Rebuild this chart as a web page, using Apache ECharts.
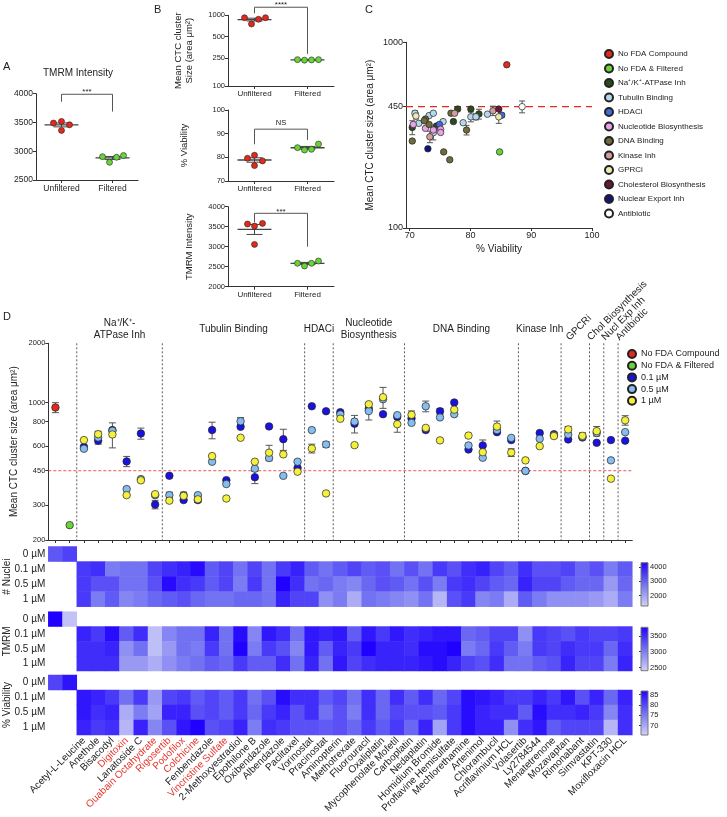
<!DOCTYPE html>
<html>
<head>
<meta charset="utf-8">
<script src="https://cdn.jsdelivr.net/npm/echarts@6/dist/echarts.min.js"></script>
<style>
html, body { margin: 0; padding: 0; background: #fff; }
#main { width: 727px; height: 817px; }
</style>
</head>
<body>
<div id="main"></div>
<script>
var FONT = '"Liberation Sans", Arial, Helvetica, sans-serif';
var INK = '#222';
var lg = function (v) { return Math.log10(v); };
var unlog = function (v) { return String(Math.round(Math.pow(10, v))); };
var plain = function (v) { return String(v); };

// ---- panels A / B : four replicates per condition ----
var conditions = ['Unfiltered', 'Filtered'];
var tmrmA_unf = [3490, 3518, 3362, 3460];
var tmrmA_fil = [2905, 2808, 2895, 2925];
var sizeB_unf = [925, 754, 878, 925];
var sizeB_fil = [236, 232, 234, 236];
var viabB_unf = [79.6, 80.9, 76.5, 78.5];
var viabB_fil = [84.1, 83.1, 83.4, 85.6];
var tmrmB_unf = [3567, 3517, 3058, 3583];
var tmrmB_fil = [2585, 2518, 2585, 2642];
// significance brackets: label, top, left leg end, right leg end
var sigA = ['***', 3990, 3860, 3690];
var sigB1 = ['****', 1300, 1070, 285];
var sigB2 = ['NS', 91.9, 85.5, 87.3];
var sigB3 = ['***', 3835, 3610, 3000];
var sizeCutoff = 450;

// ---- panel C : [% viability, cluster size, sem] ----
var cNames = ['No FDA Compound', 'No FDA & Filtered', 'Na⁺/K⁺-ATPase Inh', 'Tubulin Binding', 'HDACi',
  'Nucleotide Biosynthesis', 'DNA Binding', 'Kinase Inh', 'GPRCi', 'Cholesterol Biosynthesis',
  'Nuclear Export Inh', 'Antibiotic'];
var cNoFda = [[85.98, 757, 0]];
var cFiltered = [[84.8, 257, 0]];
var cNaK = [[70.43, 348, 30], [74.4, 354, 0], [77.9, 437, 0], [77.2, 374, 0], [80.07, 437, 0], [81.4, 411, 25]];
var cTubulin = [[70.87, 415, 12], [71.5, 366, 0], [73.2, 403, 0], [73.9, 415, 0], [73.9, 326, 28],
  [75.5, 374, 0], [78.8, 369, 0], [80.07, 397, 24], [80.9, 397, 15], [82.8, 410, 0]];
var cHdac = [[74.9, 361, 0], [85.15, 405, 10]];
var cNucleotide = [[70.6, 361, 0], [72.6, 344, 0], [73.9, 337, 0], [75.1, 340, 0], [75.1, 327, 0]];
var cDna = [[70.43, 294, 0], [72.6, 386, 0], [73.2, 361, 0], [75.6, 257, 0], [76.6, 233, 0],
  [76.8, 415, 0], [79.36, 337, 20], [72.4, 378, 0]];
var cKinase = [[73.33, 310, 22], [77.4, 415, 0], [83.7, 428, 25]];
var cGpcr = [[71.03, 401, 15], [84.66, 397, 31]];
var cChol = [[84.66, 437, 0]];
var cNuclExp = [[73.0, 267, 0]];
var cAntibiotic = [[88.5, 450, 33]];
var cData = [cNoFda, cFiltered, cNaK, cTubulin, cHdac, cNucleotide, cDna, cKinase, cGpcr, cChol, cNuclExp, cAntibiotic];

// ---- panel D ----
var compounds = ['Acetyl-L-Leucine', 'Anethole', 'Bisacodyl', 'Digitoxin', 'Lanatoside C',
  'Ouabain Octahydrate', 'Rigosertib', 'Podofilox', 'Colchicine', 'Fenbendazole',
  'Vincristine Sulfate', '2-Methoxyestradiol', 'Epothilone B', 'Oxibendazole', 'Albendazole',
  'Paclitaxel', 'Vorinostat', 'Pracinostat', 'Aminopterin', 'Methotrexate',
  'Fluorouracil', 'Oxaliplatin', 'Mycophenolate Mofetil', 'Carboplatin', 'Nedaplatin',
  'Homidium Bromide', 'Proflavine Hemisulfate', 'Mechlorethamine', 'Artenimol', 'Chlorambucil',
  'Acriflavinium HCL', 'Volasertib', 'Ly2784544', 'Menatetrenone', 'Mozavaptan',
  'Rimonabant', 'Simvastatin', 'KPT-330', 'Moxifloxacin HCL'];
var redCompounds = ['Digitoxin', 'Ouabain Octahydrate', 'Rigosertib', 'Podofilox', 'Colchicine', 'Vincristine Sulfate'];
var groupNames = ['Na⁺/K⁺-\nATPase Inh', 'Tubulin Binding', 'HDACi', 'Nucleotide\nBiosynthesis', 'DNA Binding',
  'Kinase Inh', 'GPCRi', 'Chol Biosynthesis', 'Nucl Exp Inh', 'Antibiotic'];
var groupSizes = [6, 10, 2, 5, 8, 3, 2, 1, 1, 1];
var ctrlNames = ['No FDA Compound', 'No FDA & Filtered'];
var ctrlSize = [943, 238];
var ctrlErr = [55, 0];
var doses = ['0.1 µM', '0.5 µM', '1 µM'];
var size01 = [595, 640, 724, 502, 696, 303, 424, 319, 319, 724, 403, 752, 417, 756, 651, 465, 957, 903, 893, 780,
  930, 872, 845, 830, 724, 903, 1000, 577, 605, 707, 644, 449, 700, 690, 649, 664, 624, 644, 640];
var size05 = [582, 664, 718, 363, 408, 338, 338, 338, 338, 500, 385, 803, 461, 522, 424, 500, 724, 612, 870, 800,
  905, 1040, 862, 788, 957, 840, 872, 605, 524, 724, 661, 449, 654, 682, 688, 669, 700, 508, 707];
var size1 = [644, 690, 688, 338, 402, 342, 317, 335, 322, 534, 325, 662, 500, 556, 545, 445, 584, 345, 827, 607,
  980, 1064, 776, 866, 743, 642, 920, 679, 559, 755, 557, 508, 600, 675, 730, 677, 715, 410, 812];
var err01 = [0, 0, 0, 30, 45, 15, 0, 0, 0, 70, 0, 0, 30, 0, 80, 0, 0, 0, 0, 80,
  0, 0, 0, 0, 0, 30, 0, 0, 40, 0, 0, 0, 0, 0, 0, 0, 0, 0, 0];
var err05 = [0, 50, 0, 0, 0, 0, 12, 12, 0, 0, 0, 35, 0, 0, 0, 0, 0, 20, 0, 0,
  90, 0, 0, 0, 60, 0, 0, 0, 0, 0, 0, 10, 0, 0, 0, 0, 0, 0, 0];
var err1 = [0, 0, 100, 0, 0, 0, 0, 0, 12, 0, 0, 0, 0, 50, 0, 0, 30, 0, 0, 0,
  0, 130, 70, 40, 0, 0, 0, 0, 0, 50, 25, 0, 0, 0, 25, 25, 40, 0, 45];
var sizeTicksD = [200, 300, 450, 600, 800, 1000, 2000];

// heatmaps: controls (0 µM) then compounds at 0.1 / 0.5 / 1 µM
var heatRows = ['0 µM', '0.1 µM', '0.5 µM', '1 µM'];
var nucCtrl = [3150, 3450];
var nuc01 = [3560, 3710, 2640, 2790, 2790, 3410, 3710, 3870, 4180, 3100, 3410, 2790, 3410, 2790, 3560, 3870, 3100, 2790, 3100, 3410,
  3100, 3250, 2790, 3250, 2790, 3560, 3250, 3710, 3870, 3410, 3100, 3710, 3250, 3250, 3410, 2940, 3250, 2640, 3100];
var nuc05 = [3560, 3250, 3250, 2790, 2790, 3250, 4180, 3710, 3560, 3100, 3410, 2640, 3560, 2790, 4330, 3710, 2790, 2940, 2640, 2480,
  2940, 3250, 3100, 2790, 3250, 2640, 3560, 3710, 3410, 3100, 2940, 3870, 3410, 3410, 3100, 2940, 2940, 2170, 2940];
var nuc1 = [3560, 2640, 3100, 2480, 2640, 2940, 3100, 3250, 2940, 2790, 2790, 2940, 2940, 2790, 3870, 3410, 3410, 2330, 2640, 1870,
  2790, 2640, 2480, 2330, 2790, 1710, 3250, 3560, 2480, 2640, 1870, 3100, 2640, 2330, 2330, 2330, 2170, 1870, 2640];
var tmCtrl = [3770, 2520];
var tm01 = [3560, 3430, 3700, 3220, 3500, 2540, 2950, 3090, 3090, 3560, 3090, 3700, 2950, 3630, 3500, 3090, 3630, 3560, 3630, 3220,
  3630, 3430, 3630, 3500, 3560, 3630, 3630, 3150, 3220, 3360, 3360, 2880, 3430, 3360, 3290, 3430, 3360, 3360, 3430];
var tm05 = [3500, 3500, 3560, 2880, 3090, 2540, 2810, 3090, 3020, 3430, 3090, 3770, 3020, 3430, 3290, 2950, 3630, 3220, 3560, 3430,
  3770, 3560, 3560, 3500, 3700, 3700, 3770, 3020, 3150, 3430, 3220, 3020, 3430, 3360, 3500, 3430, 3430, 3150, 3500];
var tm1 = [3500, 3500, 3500, 2810, 2810, 2670, 2880, 3020, 3090, 3220, 3150, 3430, 3220, 3220, 3500, 3090, 3560, 3090, 3630, 3360,
  3500, 3560, 3560, 3560, 3630, 3700, 3560, 3360, 3290, 3500, 3090, 3090, 3220, 3290, 3560, 3360, 3360, 3020, 3560];
var viaCtrl = [80.5, 85];
var via01 = [84.7, 83.6, 81.5, 76.2, 81.5, 71.9, 80.4, 81.5, 78.3, 80.4, 78.3, 81.5, 76.2, 79.3, 85.7, 82.5, 82.5, 78.3, 80.4, 76.2,
  82.5, 77.2, 82.5, 78.3, 82.5, 77.2, 80.4, 85.7, 84.7, 83.6, 81.5, 81.5, 83.6, 81.5, 84.7, 79.3, 83.6, 77.2, 83.6];
var via05 = [84.7, 82.5, 83.6, 69.8, 75.1, 70.8, 83.6, 83.6, 79.3, 80.4, 78.3, 81.5, 77.2, 81.5, 83.6, 79.3, 82.5, 76.2, 79.3, 75.1,
  82.5, 77.2, 80.4, 79.3, 79.3, 78.3, 81.5, 85.7, 83.6, 82.5, 82.5, 78.3, 85.7, 82.5, 82.5, 83.6, 81.5, 74.0, 82.5];
var via1 = [83.6, 81.5, 82.5, 68.7, 83.6, 74.0, 79.3, 84.7, 86.8, 79.3, 80.4, 83.6, 75.1, 82.5, 81.5, 79.3, 79.3, 78.3, 79.3, 77.2,
  81.5, 78.3, 81.5, 77.2, 83.6, 70.8, 81.5, 85.7, 83.6, 83.6, 72.9, 82.5, 84.7, 78.3, 80.4, 80.4, 80.4, 68.7, 82.5];
var nucRange = [1250, 4330], nucTicks = [2000, 3000, 4000];
var tmRange = [2400, 3770], tmTicks = [2500, 3000, 3500];
var viaRange = [65.5, 86.8], viaTicks = [70, 75, 80, 85];

// ---- colours ----
var RED = '#e2291d', GREEN = '#69d43a';
var catColors = [RED, GREEN, '#2c4a1b', '#b5d8ea', '#4569d6', '#eaa2e6', '#6e6b3c', '#d29d9c', '#efe8b2', '#6a1838', '#14137e', '#ffffff'];
var doseColors = ['#1a12e0', '#86bdf0', '#f5ef3d'];
var HEAT = ['#d3d3f8', '#7272f2', '#2000ff'];

var chart = echarts.init(document.getElementById('main'));
var grids = [], xAxes = [], yAxes = [], series = [];

function addGrid(l, t, w, h) {
  grids.push({ left: l, top: t, width: w, height: h, outerBoundsMode: 'none' });
  return grids.length - 1;
}
function axisLine() { return { show: true, onZero: false, lineStyle: { color: '#333', width: 1 } }; }

function catX(gi, fs) {
  xAxes.push({ type: 'category', gridIndex: gi, data: conditions, axisLine: axisLine(),
    axisTick: { show: true, alignWithLabel: true, length: 3, lineStyle: { color: '#333' } },
    axisLabel: { fontSize: fs, color: INK, margin: 4, fontFamily: FONT }, splitLine: { show: false } });
}
function valY(gi, o) {
  var ax = { type: 'value', gridIndex: gi, min: o.min, max: o.max, axisLine: axisLine(),
    axisTick: { show: true, length: 3, lineStyle: { color: '#333' } },
    axisLabel: { fontSize: o.fs, color: INK, margin: 3, fontFamily: FONT, formatter: plain }, splitLine: { show: false } };
  if (o.interval) ax.interval = o.interval;
  if (o.ticks) {
    var tv = o.log ? o.ticks.map(lg) : o.ticks;
    ax.axisLabel.customValues = tv;
    ax.axisTick.customValues = tv;
  }
  if (o.log) ax.axisLabel.formatter = unlog;
  if (o.name) {
    ax.name = o.name; ax.nameLocation = 'middle'; ax.nameGap = o.gap; ax.nameMoveOverlap = false;
    ax.nameTextStyle = { fontSize: o.nfs || 10, color: INK, fontFamily: FONT, lineHeight: 11 };
  }
  yAxes.push(ax);
}

function mean(a) { return a.reduce(function (s, v) { return s + v; }, 0) / a.length; }
function sem(a) {
  var m = mean(a);
  var ss = a.reduce(function (s, v) { return s + (v - m) * (v - m); }, 0);
  return Math.sqrt(ss / (a.length - 1)) / Math.sqrt(a.length);
}

// horizontal dashed cut-off line across a whole grid
function cutoffLine(gi, yVal, color, dash, width) {
  series.push({ type: 'custom', xAxisIndex: gi, yAxisIndex: gi, z: 1, data: [[0, yVal]],
    renderItem: function (params, api) {
      var cs = params.coordSys;
      var y = api.coord([0, api.value(1)])[1];
      return { type: 'line', shape: { x1: cs.x, y1: y, x2: cs.x + cs.width, y2: y },
        style: { stroke: color, lineWidth: width, lineDash: dash } };
    } });
}

// one small two-condition dot plot (panels A and B)
function dotPanel(gi, unf, fil, tf, sig, jitUnf, fs) {
  var jitFil = [-10, -3, 4, 11];
  [[unf, RED, jitUnf], [fil, GREEN, jitFil]].forEach(function (g, k) {
    series.push({ type: 'scatter', xAxisIndex: gi, yAxisIndex: gi, symbolSize: 6, z: 5,
      itemStyle: { color: g[1], borderColor: '#222', borderWidth: 0.6, opacity: 1 },
      data: g[0].map(function (v, i) { return { value: [k, tf(v)], symbolOffset: [g[2][i], 0] }; }) });
  });
  series.push({ type: 'custom', xAxisIndex: gi, yAxisIndex: gi, z: 4,
    data: [unf, fil].map(function (a, k) {
      var m = mean(a), s = sem(a);
      return [k, tf(m), tf(m - s), tf(m + s)];
    }),
    renderItem: function (params, api) {
      var c = api.coord([api.value(0), api.value(1)]);
      var lo = api.coord([api.value(0), api.value(2)]);
      var hi = api.coord([api.value(0), api.value(3)]);
      var st = { stroke: '#444', lineWidth: 1 };
      return { type: 'group', children: [
        { type: 'line', shape: { x1: c[0] - 17, y1: c[1], x2: c[0] + 17, y2: c[1] }, style: { stroke: '#444', lineWidth: 1.3 } },
        { type: 'line', shape: { x1: c[0], y1: lo[1], x2: c[0], y2: hi[1] }, style: st },
        { type: 'line', shape: { x1: c[0] - 8, y1: lo[1], x2: c[0] + 8, y2: lo[1] }, style: st },
        { type: 'line', shape: { x1: c[0] - 8, y1: hi[1], x2: c[0] + 8, y2: hi[1] }, style: st }
      ] };
    } });
  series.push({ type: 'custom', xAxisIndex: gi, yAxisIndex: gi, z: 3,
    data: [[0, tf(sig[1]), tf(sig[2]), tf(sig[3])]],
    renderItem: function (params, api) {
      var a = api.coord([0, api.value(1)]), b = api.coord([1, api.value(1)]);
      var la = api.coord([0, api.value(2)]), rb = api.coord([1, api.value(3)]);
      var stars = sig[0].charAt(0) === '*';
      return { type: 'group', children: [
        { type: 'polyline', shape: { points: [[a[0], la[1]], [a[0], a[1]], [b[0], b[1]], [b[0], rb[1]]] },
          style: { stroke: '#555', lineWidth: 1, fill: null } },
        { type: 'text', x: (a[0] + b[0]) / 2, y: stars ? a[1] + 2 : a[1] - 2,
          style: { text: sig[0], align: 'center', verticalAlign: 'bottom', fontSize: fs, fontFamily: FONT, fill: INK } }
      ] };
    } });
}

var ident = function (v) { return v; };

// ---- panel A ----
var gA = addGrid(36, 93.7, 102, 86.3);
catX(gA, 8.5);
valY(gA, { min: 2500, max: 4000, interval: 500, fs: 8.5 });
dotPanel(gA, tmrmA_unf, tmrmA_fil, ident, sigA, [-8, 0, 0, 8], 8);

// ---- panel B ----
var gB1 = addGrid(228, 15.3, 106, 70.7);
catX(gB1, 8);
valY(gB1, { min: 2, max: 3, ticks: [100, 250, 500, 1000], log: true, fs: 7.5,
  name: 'Mean CTC cluster\nSize (area μm²)', gap: 33, nfs: 9.5 });
dotPanel(gB1, sizeB_unf, sizeB_fil, lg, sigB1, [-10, -3, 4, 11], 8);

var gB2 = addGrid(228, 110, 106, 71);
catX(gB2, 8);
valY(gB2, { min: 70, max: 100, interval: 10, fs: 7.5, name: '% Viability', gap: 38, nfs: 9.5 });
dotPanel(gB2, viabB_unf, viabB_fil, ident, sigB2, [-7, 0, 0, 8], 7.5);

var gB3 = addGrid(228, 206.7, 106, 80);
catX(gB3, 8);
valY(gB3, { min: 2000, max: 4000, interval: 500, fs: 7.5, name: 'TMRM Intensity', gap: 33, nfs: 9.5 });
dotPanel(gB3, tmrmB_unf, tmrmB_fil, ident, sigB3, [-7, 0, 0, 8], 8);

// ---- panel C ----
var gC = addGrid(406, 42.3, 186, 185.7);
xAxes.push({ type: 'value', gridIndex: gC, min: 69.4, max: 100, axisLine: axisLine(),
  axisTick: { show: true, length: 3, customValues: [70, 80, 90, 100], lineStyle: { color: '#333' } },
  axisLabel: { fontSize: 9, color: INK, margin: 3, fontFamily: FONT, customValues: [70, 80, 90, 100] },
  splitLine: { show: false }, name: '% Viability', nameLocation: 'middle', nameGap: 16, nameMoveOverlap: false,
  nameTextStyle: { fontSize: 10, color: INK, fontFamily: FONT } });
valY(gC, { min: 2, max: 3, ticks: [100, 450, 1000], log: true, fs: 9,
  name: 'Mean CTC cluster size (area μm²)', gap: 30, nfs: 10 });
cutoffLine(gC, lg(sizeCutoff), '#dd2a22', [7, 5], 1.2);

var cErr = [];
cData.forEach(function (pts) {
  pts.forEach(function (p) { if (p[2] > 0) cErr.push([p[0], lg(p[1] - p[2]), lg(p[1] + p[2])]); });
});
series.push({ type: 'custom', xAxisIndex: gC, yAxisIndex: gC, z: 2, data: cErr,
  renderItem: function (params, api) {
    var lo = api.coord([api.value(0), api.value(1)]), hi = api.coord([api.value(0), api.value(2)]);
    var st = { stroke: '#555', lineWidth: 1 };
    return { type: 'group', children: [
      { type: 'line', shape: { x1: lo[0], y1: lo[1], x2: hi[0], y2: hi[1] }, style: st },
      { type: 'line', shape: { x1: lo[0] - 3, y1: lo[1], x2: lo[0] + 3, y2: lo[1] }, style: st },
      { type: 'line', shape: { x1: hi[0] - 3, y1: hi[1], x2: hi[0] + 3, y2: hi[1] }, style: st }
    ] };
  } });
cData.forEach(function (pts, k) {
  series.push({ type: 'scatter', name: cNames[k], xAxisIndex: gC, yAxisIndex: gC, symbolSize: 6.5, z: 4,
    itemStyle: { color: catColors[k], borderColor: '#222', borderWidth: 0.7, opacity: 1 },
    data: pts.map(function (p) { return [p[0], lg(p[1])]; }) });
});

// ---- panel D scatter ----
var colKeys = [' ', '  '].concat(compounds);
var gD = addGrid(48.3, 343.3, 584, 196.7);
xAxes.push({ type: 'category', gridIndex: gD, data: colKeys, axisLine: axisLine(),
  axisTick: { show: true, alignWithLabel: true, interval: 0, length: 3, lineStyle: { color: '#333' } },
  axisLabel: { show: false }, splitLine: { show: false } });
valY(gD, { min: lg(200), max: lg(2000), ticks: sizeTicksD, log: true, fs: 7.5,
  name: 'Mean CTC cluster size (area μm²)', gap: 29, nfs: 10 });
cutoffLine(gD, lg(sizeCutoff), '#e23030', [3, 2], 0.8);

// group dividers and headers
var groupSpans = [];
var startCol = 2;
groupSizes.forEach(function (n, k) { groupSpans.push([startCol, startCol + n - 1, k]); startCol += n; });
series.push({ type: 'custom', xAxisIndex: gD, yAxisIndex: gD, z: 1, data: groupSpans,
  renderItem: function (params, api) {
    var k = api.value(2);
    var top = api.coord([api.value(0), lg(2000)]), bot = api.coord([api.value(0), lg(200)]);
    var endC = api.coord([api.value(1), lg(2000)]);
    var bw = api.size([1, 0])[0];
    var xl = top[0] - bw / 2, mid = (top[0] + endC[0]) / 2;
    var kids = [{ type: 'line', shape: { x1: xl, y1: top[1], x2: xl, y2: bot[1] },
      style: { stroke: '#333', lineWidth: 0.8, lineDash: [2, 2] } }];
    if (k < 6) {
      kids.push({ type: 'text', x: mid, y: top[1] - 14, style: { text: groupNames[k], align: 'center',
        verticalAlign: 'middle', fontSize: 10, lineHeight: 12, fontFamily: FONT, fill: INK } });
    } else {
      kids.push({ type: 'text', x: mid - 4, y: top[1] - 1, rotation: Math.PI / 4, style: { text: groupNames[k],
        align: 'left', verticalAlign: 'bottom', fontSize: 10, fontFamily: FONT, fill: INK } });
    }
    return { type: 'group', children: kids };
  } });

// error bars
var dErr = [];
ctrlSize.forEach(function (v, i) { if (ctrlErr[i] > 0) dErr.push([i, lg(v - ctrlErr[i]), lg(v + ctrlErr[i])]); });
[[size01, err01], [size05, err05], [size1, err1]].forEach(function (p) {
  p[0].forEach(function (v, i) { if (p[1][i] > 0) dErr.push([i + 2, lg(v - p[1][i]), lg(v + p[1][i])]); });
});
series.push({ type: 'custom', xAxisIndex: gD, yAxisIndex: gD, z: 2, data: dErr,
  renderItem: function (params, api) {
    var lo = api.coord([api.value(0), api.value(1)]), hi = api.coord([api.value(0), api.value(2)]);
    var st = { stroke: '#555', lineWidth: 1 };
    return { type: 'group', children: [
      { type: 'line', shape: { x1: lo[0], y1: lo[1], x2: hi[0], y2: hi[1] }, style: st },
      { type: 'line', shape: { x1: lo[0] - 3.5, y1: lo[1], x2: lo[0] + 3.5, y2: lo[1] }, style: st },
      { type: 'line', shape: { x1: hi[0] - 3.5, y1: hi[1], x2: hi[0] + 3.5, y2: hi[1] }, style: st }
    ] };
  } });

ctrlNames.forEach(function (nm, i) {
  series.push({ type: 'scatter', name: nm, xAxisIndex: gD, yAxisIndex: gD, symbolSize: 7.5, z: 4,
    itemStyle: { color: catColors[i], borderColor: '#222', borderWidth: 0.7, opacity: 1 },
    data: [[i, lg(ctrlSize[i])]] });
});
[size01, size05, size1].forEach(function (arr, d) {
  series.push({ type: 'scatter', name: doses[d], xAxisIndex: gD, yAxisIndex: gD, symbolSize: 7.5, z: 4 + d,
    itemStyle: { color: doseColors[d], borderColor: '#222', borderWidth: 0.7, opacity: 1 },
    data: arr.map(function (v, i) { return [i + 2, lg(v)]; }) });
});

// ---- heatmaps ----
function heatData(ctrl, r1, r2, r3) {
  var out = [];
  ctrl.forEach(function (v, i) { out.push([i, 0, v]); });
  [r1, r2, r3].forEach(function (row, r) { row.forEach(function (v, i) { out.push([i + 2, r + 1, v]); }); });
  return out;
}
var heatSpecs = [
  { name: '# Nuclei', box: [48.3, 546.5, 584, 60.2], data: heatData(nucCtrl, nuc01, nuc05, nuc1),
    range: nucRange, ticks: nucTicks, cb: [641, 562.7, 7, 43.3] },
  { name: 'TMRM', box: [48.3, 611.7, 584, 59.3], data: heatData(tmCtrl, tm01, tm05, tm1),
    range: tmRange, ticks: tmTicks, cb: [641, 627.3, 7, 43.4] },
  { name: '% Viability', box: [48.3, 675, 584, 60], data: heatData(viaCtrl, via01, via05, via1),
    range: viaRange, ticks: viaTicks, cb: [641, 691, 7, 44] }
];
var visualMaps = [];
heatSpecs.forEach(function (h, k) {
  var gi = addGrid(h.box[0], h.box[1], h.box[2], h.box[3]);
  var last = k === heatSpecs.length - 1;
  xAxes.push({ type: 'category', gridIndex: gi, data: colKeys, axisLine: { show: false },
    axisTick: { show: false }, splitLine: { show: false },
    axisLabel: { show: last, interval: 0, rotate: 45, fontSize: 10, margin: 4, fontFamily: FONT,
      color: function (val) { return redCompounds.indexOf(val) >= 0 ? '#e5352b' : INK; } } });
  yAxes.push({ type: 'category', gridIndex: gi, data: heatRows, inverse: true, axisLine: { show: false },
    axisTick: { show: false }, splitLine: { show: false },
    axisLabel: { fontSize: 10, color: INK, margin: 3, fontFamily: FONT },
    name: h.name, nameLocation: 'middle', nameGap: 36, nameMoveOverlap: false,
    nameTextStyle: { fontSize: 10, color: INK, fontFamily: FONT } });
  series.push({ type: 'heatmap', name: h.name, xAxisIndex: gi, yAxisIndex: gi, data: h.data,
    itemStyle: { borderWidth: 0 } });
  visualMaps.push({ type: 'continuous', show: false, seriesIndex: series.length - 1, dimension: 2,
    min: h.range[0], max: h.range[1], inRange: { color: HEAT } });

  // colour bar with its own value axis
  var cg = addGrid(h.cb[0], h.cb[1], h.cb[2], h.cb[3]);
  xAxes.push({ type: 'value', gridIndex: cg, min: 0, max: 1, show: false });
  yAxes.push({ type: 'value', gridIndex: cg, position: 'right', min: h.range[0], max: h.range[1],
    axisLine: { show: false }, splitLine: { show: false },
    axisTick: { show: true, inside: true, length: 2, customValues: h.ticks, lineStyle: { color: '#333' } },
    axisLabel: { fontSize: 7.5, color: INK, margin: 2, fontFamily: FONT, customValues: h.ticks, formatter: plain } });
  series.push({ type: 'custom', xAxisIndex: cg, yAxisIndex: cg, data: [[0, h.range[0], h.range[1]]],
    renderItem: function (params, api) {
      var tl = api.coord([0, api.value(2)]), br = api.coord([1, api.value(1)]);
      return { type: 'rect', shape: { x: tl[0], y: tl[1], width: br[0] - tl[0], height: br[1] - tl[1] },
        style: { stroke: '#777', lineWidth: 1,
          fill: new echarts.graphic.LinearGradient(0, 0, 0, 1, [
            { offset: 0, color: HEAT[2] }, { offset: 0.5, color: HEAT[1] }, { offset: 1, color: HEAT[0] }]) } };
    } });
});

function label(txt, x, y, fs, align) {
  return { type: 'text', x: x, y: y, style: { text: txt, fontSize: fs, fontFamily: FONT, fill: INK,
    align: align || 'left', verticalAlign: 'middle' } };
}

chart.setOption({
  animation: false,
  backgroundColor: '#fff',
  textStyle: { fontFamily: FONT },
  grid: grids,
  xAxis: xAxes,
  yAxis: yAxes,
  visualMap: visualMaps,
  legend: [
    { data: cNames, orient: 'vertical', left: 604, top: 49, itemWidth: 8, itemHeight: 8, itemGap: 4.5,
      icon: 'circle', selectedMode: false, padding: 0,
      textStyle: { fontSize: 8, color: INK, fontFamily: FONT } },
    { data: ctrlNames.concat(doses), orient: 'vertical', left: 627, top: 349, itemWidth: 8, itemHeight: 8,
      itemGap: 1.7, icon: 'circle', selectedMode: false, padding: 0,
      textStyle: { fontSize: 9, color: INK, fontFamily: FONT } }
  ],
  graphic: [
    label('A', 3, 67, 11), label('TMRM Intensity', 78, 73, 10, 'center'),
    label('B', 154, 10, 11), label('C', 365, 10, 11), label('D', 3, 317, 11)
  ],
  series: series
});
</script>
</body>
</html>
